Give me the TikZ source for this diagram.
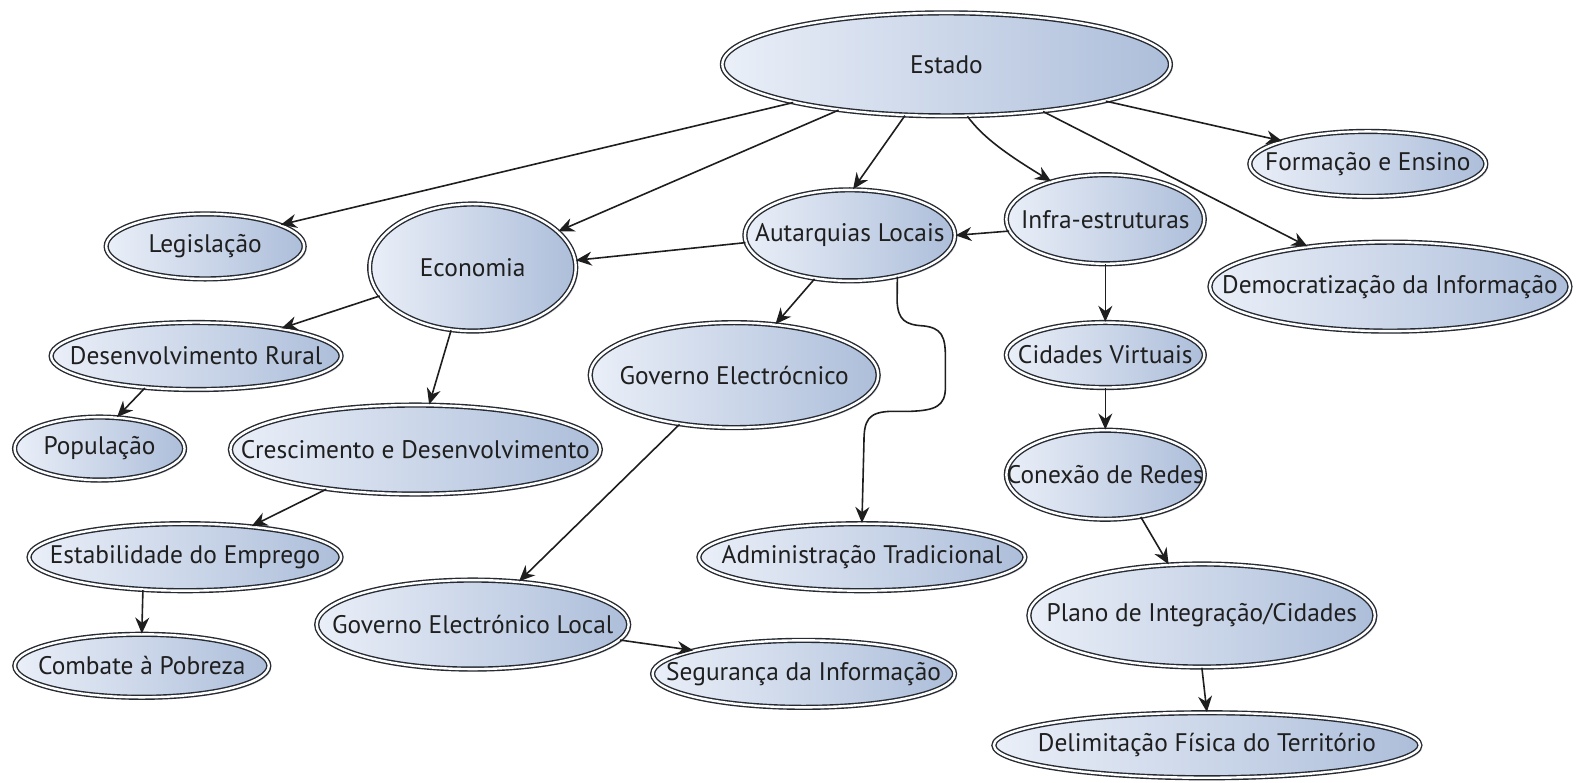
\documentclass[tikz,border=0pt]{standalone}
\usepackage{fontspec}
\setmainfont{PT Sans}
\usetikzlibrary{shapes.geometric,arrows.meta,shadows}
\definecolor{bubL}{HTML}{EAEFF8}
\definecolor{bubR}{HTML}{ADBEDA}
\definecolor{bubLine}{HTML}{262B33}
\definecolor{txtC}{HTML}{1F1F1F}
\definecolor{lineC}{HTML}{1E1E1E}
\tikzset{
  bub/.style={ellipse, inner sep=0pt, draw=bubLine, line width=0.7pt,
    double=white, double distance=1.2pt, left color=bubL, right color=bubR,
    drop shadow={opacity=0.25, shadow xshift=1.2pt, shadow yshift=-1.2pt}},
  txt/.style={text=txtC, font=\fontsize{12.7}{15}\selectfont, inner sep=0pt},
  conn/.style={draw=lineC, line width=0.8pt, -{Stealth[length=8pt,width=7pt]}}
}
\begin{document}
\begin{tikzpicture}[x=0.50287pt, y=-0.50287pt]
\useasboundingbox (0,0) rectangle (1568,778);
% nodes
\node[bub, minimum width=224pt, minimum height=51.5pt, label={[txt]center:Estado}] (est) at (941,64) {};
\node[bub, minimum width=118pt, minimum height=32.5pt, label={[txt]center:Formação e Ensino}] (form) at (1360,163) {};
\node[bub, minimum width=99pt, minimum height=32.5pt, label={[txt]center:Legislação}] (leg) at (204,245) {};
\node[bub, minimum width=103pt, minimum height=63.5pt, label={[txt]center:Economia}] (eco) at (470,266) {};
\node[bub, minimum width=105pt, minimum height=45.5pt, label={[txt]center:Autarquias Locais}] (aut) at (845,234) {};
\node[bub, minimum width=99pt, minimum height=44.5pt, label={[txt]center:Infra-estruturas}] (inf) at (1099,218) {};
\node[bub, minimum width=180pt, minimum height=44.5pt, label={[txt]center:Democratização da Informação}] (dem) at (1382,285) {};
\node[bub, minimum width=145pt, minimum height=33.5pt, label={[txt]center:Desenvolvimento Rural}] (dr) at (195,354) {};
\node[bub, minimum width=144pt, minimum height=52.5pt, label={[txt]center:Governo Electrócnico}] (gove) at (730,373) {};
\node[bub, minimum width=99pt, minimum height=32.5pt, label={[txt]center:Cidades Virtuais}] (cid) at (1099,353) {};
\node[bub, minimum width=85pt, minimum height=31.5pt, label={[txt]center:População}] (pop) at (99,446) {};
\node[bub, minimum width=185pt, minimum height=44.5pt, label={[txt]center:Crescimento e Desenvolvimento}] (cre) at (413,447) {};
\node[bub, minimum width=99pt, minimum height=44.5pt, label={[txt]center:Conexão de Redes}] (con) at (1099,472) {};
\node[bub, minimum width=156pt, minimum height=33.5pt, label={[txt]center:Estabilidade do Emprego}] (estab) at (184,554) {};
\node[bub, minimum width=163pt, minimum height=33.5pt, label={[txt]center:Administração Tradicional}] (adm) at (857,554) {};
\node[bub, minimum width=173pt, minimum height=51.5pt, label={[txt]center:Plano de Integração/Cidades}] (pla) at (1195,612) {};
\node[bub, minimum width=156pt, minimum height=44.5pt, label={[txt]center:Governo Electrónico Local}] (gel) at (470,621) {};
\node[bub, minimum width=127pt, minimum height=31.5pt, label={[txt]center:Combate à Pobreza}] (comb) at (141,662) {};
\node[bub, minimum width=151pt, minimum height=33.5pt, label={[txt]center:Segurança da Informação}] (seg) at (799,670) {};
\node[bub, minimum width=213pt, minimum height=32.5pt, label={[txt]center:Delimitação Física do Território}] (del) at (1200,741) {};
% connectors
\draw[conn] (est.194) -- (leg.16);
\draw[conn] (est.203) -- (eco.23);
\draw[conn] (est.231) -- (aut.86);
\draw[conn] (est.292) .. controls (975,133) and (992,148) .. (inf.145);
\draw[conn] (est.347) -- (form.165);
\draw[conn] (est.334) -- (dem.154);
\draw[conn] (inf.187) -- (aut.0);
\draw[conn] (aut.184) -- (eco.4);
\draw[conn] (aut.231) -- (gove.51);
\draw[conn] (aut.319) -- (892,300) .. controls (893,318) and (900,323) .. (918,324)
  .. controls (936,326) and (940,334) .. (940,355) -- (940,385)
  .. controls (940,404) and (930,408) .. (905,409) -- (885,409)
  .. controls (863,410) and (859,418) .. (859,440) -- (adm.north);
\draw[conn] (inf.south) -- (cid.north);
\draw[conn] (eco.197) -- (dr.18);
\draw[conn] (eco.251) -- (cre.73);
\draw[conn] (dr.212) -- (pop.61);
\draw[conn] (cre.204) -- (estab.25);
\draw[conn] (estab.218) -- (comb.north);
\draw[conn] (gove.222) -- (gel.43);
\draw[conn] (gel.354) -- (seg.168);
\draw[conn] (cid.south) -- (con.north);
\draw[conn] (con.310) -- (pla.123);
\draw[conn] (pla.south) -- (del.north);
\end{tikzpicture}
\end{document}
